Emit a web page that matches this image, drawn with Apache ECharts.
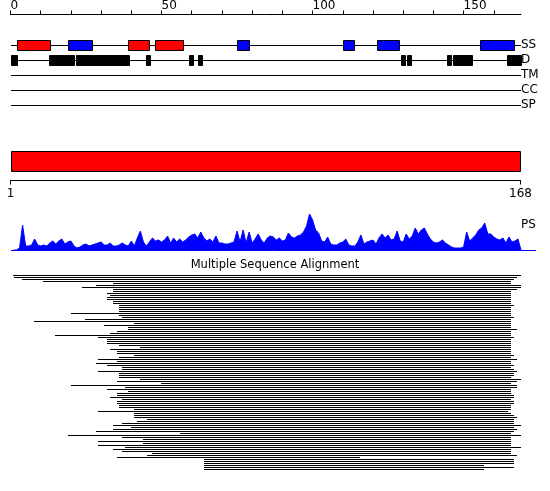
<!DOCTYPE html>
<html><head><meta charset="utf-8">
<script src="https://cdn.jsdelivr.net/npm/echarts@6/dist/echarts.min.js"></script>
<style>html,body{margin:0;padding:0;background:#fff}#c{width:550px;height:491px}</style>
</head><body><div id="c"></div>
<script>
// ---------------- data ----------------
const SEQ_LEN = 168;
const X_MAX = 169;
const rulerTicks = [0,10,20,30,40,50,60,70,80,90,100,110,120,130,140,150,160];
const rulerLabels = [0,50,100,150];
const trackNames = ['SS','D','TM','CC','SP'];
// secondary structure segments [start, end]
const helices = [[2,13],[39,46],[48,57]];
const strands = [[19,27],[75,79],[110,113.6],[121.4,128.5],[155.5,166.6]];
// disordered segments [start, end]
const disordered = [[0,2],[12.9,20.9],[21.7,39.1],[44.9,46.1],[59.1,60.3],[62.1,63.3],
  [129.3,130.6],[131.4,132.6],[144.5,145.8],[146.6,152.7],[164.5,168.9]];
// PS profile, residues 1..168
const psValues = [
  0,0,2,25,4,4,5,11,5,4,
  5,4,7,9,6,9,11,6,8,9,
  4,2,3,5,6,4,5,6,7,8,
  5,5,7,4,4,5,7,5,4,9,
  4,12,19,8,4,8,12,9,10,8,
  10,14,7,12,8,11,8,10,13,15,
  16,12,18,12,9,11,8,14,7,7,
  6,6,7,8,19,8,20,7,18,7,
  11,16,10,7,12,14,13,10,12,9,
  10,17,13,12,14,15,18,24,36,30,
  20,17,9,8,13,6,5,5,7,8,
  11,5,4,4,8,15,6,8,9,10,
  6,12,16,12,15,10,11,19,9,8,
  16,11,14,22,16,20,22,16,11,8,
  7,8,10,7,5,3,2,2,2,3,
  18,9,12,15,20,22,27,16,16,13,
  11,10,12,7,13,8,9,11];
// multiple sequence alignment rows: start / end residue
const msaStart = [
  0.8,1.2,3.8,10.8,33.9,28.3,23.7,33.9,33.9,31.9,32.9,31.9,31.9,33.9,33.9,35.9,35.9,35.9,35.9,20.0,35.9,36.9,24.7,7.8,
  40.9,30.9,38.9,38.9,35.3,32.9,14.7,29.0,31.9,31.9,31.9,35.9,42.9,32.9,35.3,35.3,40.9,35.9,29.0,35.3,28.3,31.9,36.9,36.9,
  29.0,35.9,35.9,35.9,42.9,35.3,49.8,20.0,37.9,31.9,38.9,35.3,35.3,32.9,36.9,35.3,35.3,35.9,35.9,40.9,29.0,40.9,40.9,40.9,
  45.2,41.9,36.9,33.9,39.9,33.9,28.3,56.1,19.0,36.9,43.9,29.0,43.9,29.0,37.9,33.9,36.9,46.8,45.2,35.3,64.1,64.1,64.1,64.1,64.1,64.1];
const msaEnd = [
  169.0,167.7,166.7,165.7,165.7,169.0,169.0,167.7,165.7,165.7,
  165.7,165.7,165.7,165.7,165.7,166.7,165.7,165.7,165.7,165.7,
  165.7,166.7,165.7,165.7,165.7,165.7,165.7,167.7,165.7,165.7,
  165.7,166.7,165.7,165.7,165.7,165.7,165.7,165.7,165.7,165.7,
  166.7,165.7,167.7,165.7,165.7,166.7,165.7,166.7,167.7,166.7,
  166.7,165.7,169.0,167.7,165.7,167.7,167.7,165.7,165.7,165.7,
  166.7,166.7,165.7,166.7,166.7,165.7,165.7,165.7,164.8,165.7,
  166.7,167.7,166.7,166.7,166.7,169.0,166.7,167.7,166.7,165.7,
  169.0,165.7,165.7,165.7,165.7,165.7,169.0,165.7,165.7,165.7,
  167.7,115.7,166.7,166.7,166.7,156.8,166.7,156.8];

// ---------------- chart ----------------
const FONT = 'DejaVu Sans';
const chart = echarts.init(document.getElementById('c'), null, {renderer:'canvas'});

function boxRenderer(color){
  return function(params, api){
    const a = api.coord([api.value(0), api.value(2)]);
    const b = api.coord([api.value(1), api.value(2)]);
    const x1 = Math.round(a[0]) + 0.5, x2 = Math.round(b[0]) + 0.5;
    const yc = Math.round(a[1]);
    return {type:'rect', shape:{x:x1, y:yc - 4.5, width:Math.max(x2 - x1, 1), height:10},
      style:{fill:color, stroke:'#000', lineWidth:1}};
  };
}
function hLineRenderer(params, api){
  const a = api.coord([api.value(0), api.value(2)]);
  const b = api.coord([api.value(1), api.value(2)]);
  const y = Math.floor(a[1]) + 0.5;
  return {type:'line', shape:{x1:Math.round(a[0]), y1:y, x2:Math.round(b[0]), y2:y},
    style:{stroke:'#000', lineWidth:1}};
}

const msaRows = msaStart.map((s, i) => [s, msaEnd[i], i]);

const option = {
  animation:false,
  backgroundColor:'#fff',
  textStyle:{fontFamily:FONT},
  title:[
    {text:'Multiple Sequence Alignment', left:'center', top:259, padding:0,
     textStyle:{fontSize:11.5, fontWeight:'normal', color:'#000', fontFamily:FONT}},
    {text:'PS', left:521, top:219, padding:0,
     textStyle:{fontSize:12, fontWeight:'normal', color:'#000', fontFamily:FONT}}
  ],
  grid:[
    {left:10.5, right:29, top:37.5, height:75, outerBoundsMode:'none'},
    {left:10.5, right:29.5, top:150.5, height:20, outerBoundsMode:'none'},
    {left:10.5, right:29, top:214, height:36, outerBoundsMode:'none'},
    {left:10.5, right:29, top:274, height:196, outerBoundsMode:'none'}
  ],
  xAxis:[
    {gridIndex:0, type:'value', position:'top', min:0, max:X_MAX, offset:23,
     axisLine:{show:true, onZero:false, lineStyle:{color:'#000', width:1}},
     axisTick:{show:true, length:4, customValues:rulerTicks, lineStyle:{color:'#000', width:1}},
     axisLabel:{show:true, customValues:rulerLabels, align:'left', margin:3, fontSize:12, color:'#000', fontFamily:FONT},
     splitLine:{show:false}},
    {gridIndex:1, type:'value', position:'bottom', min:1, max:SEQ_LEN, offset:10,
     axisLine:{show:true, onZero:false, lineStyle:{color:'#000', width:1}},
     axisTick:{show:true, length:4, customValues:[1, SEQ_LEN], lineStyle:{color:'#000', width:1}},
     axisLabel:{show:true, customValues:[1, SEQ_LEN], margin:7, fontSize:12, color:'#000', fontFamily:FONT},
     splitLine:{show:false}},
    {gridIndex:2, type:'value', min:0, max:X_MAX, show:false},
    {gridIndex:3, type:'value', min:0, max:X_MAX, show:false}
  ],
  yAxis:[
    {gridIndex:0, type:'category', data:trackNames, inverse:true, position:'right',
     axisLine:{show:false}, axisTick:{show:false}, splitLine:{show:false},
     axisLabel:{interval:0, hideOverlap:false, margin:0, fontSize:12, color:'#000', fontFamily:FONT}},
    {gridIndex:1, type:'value', min:0, max:1, show:false},
    {gridIndex:2, type:'value', min:0, max:36, show:false},
    {gridIndex:3, type:'category', data:msaRows.map((r, i) => i), inverse:true, show:false}
  ],
  series:[
    {type:'custom', name:'tracks', xAxisIndex:0, yAxisIndex:0, z:1,
     encode:{x:[0,1], y:2},
     data:trackNames.map((n, i) => [0, X_MAX, i]),
     renderItem:hLineRenderer},
    {type:'custom', name:'helix', xAxisIndex:0, yAxisIndex:0, z:2,
     encode:{x:[0,1], y:2},
     data:helices.map(s => [s[0], s[1], 0]), renderItem:boxRenderer('#ff0000')},
    {type:'custom', name:'strand', xAxisIndex:0, yAxisIndex:0, z:2,
     encode:{x:[0,1], y:2},
     data:strands.map(s => [s[0], s[1], 0]), renderItem:boxRenderer('#0000ff')},
    {type:'custom', name:'disorder', xAxisIndex:0, yAxisIndex:0, z:2,
     encode:{x:[0,1], y:2},
     data:disordered.map(s => [s[0], s[1], 1]), renderItem:boxRenderer('#000000')},
    {type:'custom', name:'sequence', xAxisIndex:1, yAxisIndex:1, z:2,
     encode:{x:[0,1], y:2},
     data:[[1, SEQ_LEN, 0]],
     renderItem:function(params, api){
       const a = api.coord([api.value(0), 1]);
       const b = api.coord([api.value(1), 0]);
       const x1 = Math.round(a[0]) + 0.5, x2 = Math.round(b[0]) + 0.5;
       const y1 = Math.round(a[1]) + 0.5, y2 = Math.round(b[1]) + 0.5;
       return {type:'rect', shape:{x:x1, y:y1, width:x2 - x1, height:y2 - y1},
         style:{fill:'#ff0000', stroke:'#000', lineWidth:1}};
     }},
    {type:'line', name:'PS', xAxisIndex:2, yAxisIndex:2, z:2,
     data:psValues.map((v, i) => [i + 1, v]).concat([[X_MAX, 0]]),
     symbol:'none', smooth:false,
     lineStyle:{color:'#0000ff', width:1},
     areaStyle:{color:'#0000ff', opacity:1}},
    {type:'custom', name:'PS baseline', xAxisIndex:2, yAxisIndex:2, z:3,
     data:[[0, 0]],
     renderItem:function(params, api){
       const a = api.coord([0, 0]);
       const y = Math.floor(a[1]) + 0.5;
       return {type:'line', shape:{x1:Math.round(a[0]), y1:y, x2:api.getWidth() - 14, y2:y},
         style:{stroke:'#0000ff', lineWidth:1}};
     }},
    {type:'custom', name:'MSA', xAxisIndex:3, yAxisIndex:3, z:2,
     encode:{x:[0,1], y:2},
     data:msaRows, renderItem:hLineRenderer}
  ]
};
chart.setOption(option);
</script>
</body></html>
